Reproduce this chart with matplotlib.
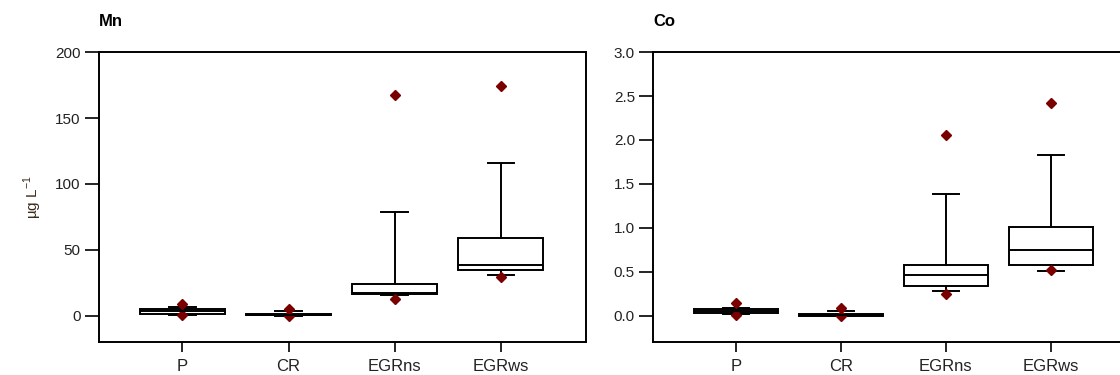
import numpy as np
import matplotlib
matplotlib.use("Agg")
import matplotlib.pyplot as plt

plt.rcParams['font.family'] = ['Liberation Sans', 'DejaVu Sans']
plt.rcParams['mathtext.fontset'] = 'custom'
plt.rcParams['mathtext.rm'] = 'Liberation Sans'

# sites along x
categories = ['P', 'CR', 'EGRns', 'EGRws']

# Mn (ug/L): whisker low, q1, median, q3, whisker high, outliers
mn_whislo = [0.8, 0.1, 15.7, 31.1]
mn_q1 = [1.5, 0.2, 16.2, 35.0]
mn_med = [3.5, 0.5, 17.2, 38.7]
mn_q3 = [5.3, 1.2, 23.8, 59.0]
mn_whishi = [6.5, 3.5, 79.0, 115.7]
mn_fliers = [[8.5, 0.5], [5.0, 0.0], [167.8, 12.7], [174.0, 29.0]]

# Co (ug/L)
co_whislo = [0.015, 0.0, 0.277, 0.505]
co_q1 = [0.03, 0.0, 0.334, 0.58]
co_med = [0.053, 0.008, 0.467, 0.752]
co_q3 = [0.076, 0.019, 0.58, 1.014]
co_whishi = [0.09, 0.053, 1.38, 1.83]
co_fliers = [[0.144, 0.008], [0.09, 0.0], [2.06, 0.243], [2.42, 0.52]]


def make_stats(lo, q1, med, q3, hi, fl):
    stats = []
    for i in range(len(categories)):
        stats.append(dict(whislo=lo[i], q1=q1[i], med=med[i], q3=q3[i],
                          whishi=hi[i], fliers=fl[i], label=categories[i]))
    return stats


def draw_panel(ax, stats, title, ylim, yticks, ylabels):
    lw = 1.4
    ax.bxp(stats, positions=range(1, len(categories) + 1), widths=0.8,
           capwidths=0.25, showfliers=True, patch_artist=True,
           boxprops=dict(facecolor='white', edgecolor='black', linewidth=lw),
           medianprops=dict(color='black', linewidth=lw),
           whiskerprops=dict(color='black', linewidth=lw),
           capprops=dict(color='black', linewidth=lw),
           flierprops=dict(marker='D', markersize=5.2, markerfacecolor='#7a0000',
                           markeredgecolor='#7a0000', linestyle='none'))
    ax.set_xlim(0.21, 4.8)
    ax.set_ylim(*ylim)
    ax.set_yticks(yticks)
    ax.set_yticklabels(ylabels)
    ax.tick_params(axis='y', direction='out', length=10, width=1.2,
                   labelsize=11, pad=3, labelcolor='#222222')
    ax.tick_params(axis='x', direction='out', length=7, width=1.2,
                   labelsize=12, pad=5, labelcolor='#222222')
    for s in ax.spines.values():
        s.set_linewidth(1.4)
    ax.text(0.0, 1.08, title, transform=ax.transAxes, fontsize=12,
            fontweight='bold', ha='left', va='bottom')


fig = plt.figure(figsize=(11.2, 3.75), dpi=100)
ax1 = fig.add_axes([0.088, 0.088, 0.435, 0.773])
ax2 = fig.add_axes([0.583, 0.088, 0.43, 0.773])

draw_panel(ax1, make_stats(mn_whislo, mn_q1, mn_med, mn_q3, mn_whishi, mn_fliers),
           'Mn', (-20, 200), [0, 50, 100, 150, 200],
           ['0', '50', '100', '150', '200'])
ax1.set_ylabel('\u00b5g L$^{-1}$', fontsize=11, labelpad=8, color='#3a2a1a')

draw_panel(ax2, make_stats(co_whislo, co_q1, co_med, co_q3, co_whishi, co_fliers),
           'Co', (-0.3, 3.0), [0, 0.5, 1.0, 1.5, 2.0, 2.5, 3.0],
           ['0.0', '0.5', '1.0', '1.5', '2.0', '2.5', '3.0'])

fig.savefig('out.png', dpi=100)
